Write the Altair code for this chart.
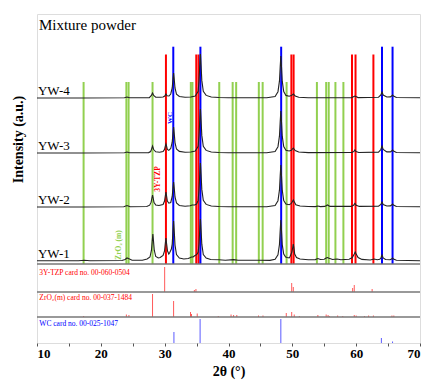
import altair as alt
import pandas as pd

# ---------------- data ----------------
# XRD patterns (2theta, intensity a.u.), baseline-relative
YW1 = [(10,0.3),(16.5,0.3),(17.4,0.8),(18.3,0.3),(23.3,0.5),(23.8,1.5),(24.1,3),(24.4,2.2),(24.9,0.8),(26.5,0.8),
       (27.25,2),(27.7,4),(27.93,10.8),(28.05,20),(28.15,27),(28.25,20),(28.37,10.8),(28.6,4.5),(29.0,3),(29.3,3.5),
       (29.75,5.5),(29.98,10),(30.1,17.5),(30.2,23),(30.3,17.5),(30.45,10),(30.65,7),(30.8,8.5),(31.05,12),(31.18,17),
       (31.3,30),(31.4,40),(31.5,30),(31.62,16),(31.85,6.5),(32.3,3),(33.0,2),
       (33.7,2.5),(34.05,3.5),(34.2,4),(34.45,4),(34.75,5.5),(34.9,6),(35.1,7),(35.25,9),(35.38,17),(35.5,31.5),(35.6,42),
       (35.7,31.5),(35.82,16.8),(36.05,6.5),(36.5,3),(37.2,1.5),(38.5,1.2),(39.5,0.8),
       (40.8,1.4),(41.5,0.8),(44.8,0.8),(46.5,0.6),(47.3,1.8),(47.75,6.2),(47.98,16.4),(48.1,30.8),(48.2,41),(48.3,30.8),
       (48.42,16.4),(48.65,7),(48.95,4),(49.2,3.5),(49.5,3.2),
       (49.65,4.5),(49.93,9),(50.05,13),(50.15,17),(50.25,13),(50.37,7),(50.65,3.5),(51.2,2),(52.5,1.2),(53.6,1.4),
       (54.0,2.5),(54.4,1.5),(55.0,1.8),(55.3,3),(55.5,3.5),(55.75,2.8),(56.3,1.5),(57.0,2),(57.6,1.3),
       (58.9,1.8),(59.4,3.5),(59.7,7),(59.85,9),(60.0,7),(60.3,3.5),(60.9,1.6),(62.2,1),(62.8,2),(63.3,1.2),(63.7,1.8),
       (63.87,3),(64.05,6),(64.23,3),(64.6,1.5),(65.3,1.3),(65.55,2),(65.7,3),(65.85,2),(66.3,0.8),(70,0.3)]
YW2 = [(10,0),(17,0),(23.6,0.3),(24.1,1.5),(24.6,0.3),(27.2,0.5),(27.65,1.8),(27.88,4.8),(28.0,9),(28.1,12),(28.2,9),
       (28.32,4.8),(28.6,2),(29.1,1.5),
       (29.75,2.5),(29.98,6),(30.1,11),(30.2,15),(30.3,11),(30.42,6),(30.65,3.8),(30.95,4.5),(31.18,10.5),(31.3,19),
       (31.4,25),(31.5,19),(31.62,10),(31.85,4),(32.3,1.5),(33.2,0.8),
       (34.0,1.2),(34.3,2),(34.7,2),(35.0,3),(35.25,6.6),(35.38,17.6),(35.5,33),(35.6,44),(35.7,33),(35.82,17.6),
       (36.05,6.6),(36.5,2.6),(37.3,1),(38.5,0.5),(40,0.3),
       (46,0.3),(47.3,1.5),(47.75,6.3),(47.98,16.8),(48.1,31.5),(48.2,42),(48.3,31.5),(48.42,16.8),(48.65,6.5),(49.0,3),
       (49.5,2.3),(49.8,3.3),(50.0,5.2),(50.15,7),(50.3,5.2),(50.55,2.2),(51.2,1),(52.5,0.5),
       (53.6,0.4),(54.0,1),(54.4,0.4),(55.1,0.6),(55.5,2),(55.9,0.6),(59.2,0.6),(59.6,1.8),(59.8,3.5),(60.0,1.8),
       (60.5,0.6),(63.5,0.7),(63.87,2.5),(64.05,5),(64.23,2.5),(64.8,1),(65.35,1.1),(65.55,2),(65.7,3),(65.85,2),
       (66.3,0.5),(70,0.2)]
YW3 = [(10,0),(17,0),(23.7,0.2),(24.1,1),(24.5,0.2),(27.5,0.4),(27.8,1.5),(27.93,3.5),(28.1,7),(28.27,3.5),(28.6,1.2),
       (29.2,0.8),
       (29.75,1.5),(29.98,3.6),(30.1,6.8),(30.2,9),(30.3,6.8),(30.42,3.6),(30.65,2.6),(30.95,4.5),(31.18,10.8),
       (31.3,19.5),(31.4,26),(31.5,19.5),(31.62,10.4),(31.85,4),(32.3,1.6),(33.2,0.7),
       (34.1,1),(34.8,2),(35.25,6.6),(35.38,17.6),(35.5,33),(35.6,44),(35.7,33),(35.82,17.6),(36.05,6.6),(36.5,2.6),
       (37.3,1),(38.5,0.5),(40,0.3),
       (46,0.3),(47.3,1.5),(47.75,6.3),(47.98,16.8),(48.1,31.5),(48.2,42),(48.3,31.5),(48.42,16.8),(48.65,6.5),(49.0,2.8),
       (49.5,2),(49.85,2.8),(50.15,5),(50.45,2.5),(51.0,1),(52.5,0.4),
       (59.3,0.5),(59.62,1.5),(59.8,3),(59.98,1.5),(60.4,0.5),(63.5,0.9),(63.87,3.5),(64.05,7),(64.23,3.5),(64.8,1.1),
       (65.35,1.1),(65.55,2),(65.7,3),(65.85,2),(66.3,0.5),(70,0.2)]
YW4 = [(10,0),(17,0),(23.7,0.2),(24.1,1),(24.5,0.2),(27.6,0.4),(27.92,2.5),(28.1,5),(28.28,2.5),(28.6,0.9),(29.3,0.7),
       (29.75,1),(30.02,2),(30.2,4),(30.38,2.2),(30.68,2),(30.95,4),(31.18,10),(31.3,18.75),(31.4,25),(31.5,18.75),
       (31.62,10),(31.85,3.8),(32.3,1.5),(33.2,0.7),
       (34.1,1),(34.8,2),(35.25,6.6),(35.38,17.6),(35.5,33),(35.6,44),(35.7,33),(35.82,17.6),(36.05,6.6),(36.5,2.6),
       (37.3,1),(38.5,0.5),(40,0.3),
       (46,0.3),(47.3,1.5),(47.75,6.3),(47.98,16.8),(48.1,31.5),(48.2,42),(48.3,31.5),(48.42,16.8),(48.65,6.5),(49.0,2.6),
       (49.5,1.8),(49.85,2.4),(50.15,4),(50.45,2),(51.0,0.8),(52.5,0.3),
       (59.3,0.4),(59.8,2),(60.3,0.4),(63.5,0.8),(63.87,3),(64.05,6),(64.23,3),(64.8,1),(65.35,1.1),(65.55,2),(65.7,3),
       (65.85,2),(66.3,0.5),(70,0.2)]

SERIES = ["YW-1", "YW-2", "YW-3", "YW-4"]

# reference phase positions (2theta)
ZRO2_LINES = [17.3, 24.0, 24.35, 28.1, 34.1, 34.35, 38.55, 40.65, 41.2, 44.75, 45.35, 49.1,
              53.85, 55.3, 55.7, 56.75, 58.0]
TZP_LINES = [30.2, 34.95, 35.3, 49.85, 50.2, 59.35, 59.9, 62.7]
WC_LINES = [31.35, 35.6, 48.25, 64.05, 65.7]

# PDF card stick patterns (2theta, relative height)
TZP_CARD = [(30.0, 25), (34.65, 2), (34.9, 3), (49.9, 9), (50.15, 5), (59.45, 4), (59.7, 7), (62.5, 3)]
ZRO2_CARD = [(17.3, 1), (24.0, 2.5), (24.4, 2), (28.1, 23), (31.4, 16), (34.05, 5), (34.2, 3), (35.1, 3.5),
             (38.4, 1), (40.4, 2.5), (40.8, 2), (41.3, 2), (44.7, 1.5), (45.4, 1.5), (49.05, 4), (49.9, 5),
             (50.3, 2.5), (51.1, 1), (54.0, 2), (55.3, 2.5), (55.6, 2), (55.8, 1), (57.1, 1.5), (57.9, 1),
             (59.7, 2), (60.0, 1.5), (61.3, 1), (61.95, 1.5), (62.7, 1.5), (65.6, 1.5), (65.9, 1.5)]
WC_CARD = [(31.45, 11), (35.55, 24), (48.2, 24), (63.95, 5), (65.7, 1.5)]

CARD_LABELS = ["3Y-TZP card no. 00-060-0504", "ZrO\u2082(m) card no. 00-037-1484", "WC card no. 00-025-1047"]

# ---------------- layout (vertical stacking in plot units) ----------------
OFFSETS = [82, 136, 190, 245]          # curve baselines
PANEL_BOTTOMS = [51, 26, 0]            # TZP, ZrO2, WC card panels
SEPARATORS = [26, 51, 79]
MAIN_BOTTOM = 79
LINE_TOPS = {"zro2": 261, "tzp": 288.5, "wc": 296.3}
GREEN, RED, BLUE = "#92d050", "#ff0000", "#0000ff"
FONT = "'Times New Roman', 'Liberation Serif', serif"

rows = []
for name, pts, off in zip(SERIES, [YW1, YW2, YW3, YW4], OFFSETS):
    for x, y in pts:
        rows.append({"series": name, "x": x, "y": y + off})
curves = pd.DataFrame(rows)

ref_rows = []
for pos in ZRO2_LINES:
    ref_rows.append({"x": pos, "y": MAIN_BOTTOM, "y2": LINE_TOPS["zro2"], "phase": "zro2"})
for pos in TZP_LINES:
    ref_rows.append({"x": pos, "y": MAIN_BOTTOM, "y2": LINE_TOPS["tzp"], "phase": "tzp"})
for pos in WC_LINES:
    ref_rows.append({"x": pos, "y": MAIN_BOTTOM, "y2": LINE_TOPS["wc"], "phase": "wc"})
refs = pd.DataFrame(ref_rows)

stick_rows = []
for card, base, phase in zip([TZP_CARD, ZRO2_CARD, WC_CARD], PANEL_BOTTOMS, ["tzp", "zro2c", "wc"]):
    for pos, h in card:
        stick_rows.append({"x": pos, "y": base, "y2": base + h, "phase": phase})
sticks = pd.DataFrame(stick_rows)

X_DOM = [10, 70]
Y_DOM = [0, 329]

xs = alt.Scale(domain=X_DOM, nice=False, zero=False)
ys = alt.Scale(domain=Y_DOM, nice=False, zero=False)
x_axis = alt.Axis(values=list(range(10, 71, 5)),
                  labelExpr="datum.value % 10 == 0 ? datum.label : ''",
                  title="2\u03b8 (\u00b0)", grid=False, domain=False,
                  tickSize=3, tickColor="#555", labelPadding=1,
                  labelFont=FONT, labelFontSize=13, labelFontWeight="bold", labelColor="#000",
                  titleFont=FONT, titleFontSize=14, titleFontWeight="bold", titleColor="#000",
                  titlePadding=4)
y_axis = alt.Axis(title="Intensity (a.u.)", labels=False, ticks=False, domain=False, grid=False,
                  titleFont=FONT, titleFontSize=14, titleFontWeight="bold", titleColor="#000",
                  titleAngle=270, titleX=-19, titleY=125, titleAlign="center", titleBaseline="middle")

X = alt.X("x:Q", scale=xs, axis=x_axis)
Y = alt.Y("y:Q", scale=ys, axis=y_axis)

lines = alt.Chart(curves).mark_line(color="#222222", strokeWidth=1.1).encode(
    x=X, y=Y, detail="series:N", order="x:Q")

ref_layer = alt.Chart(refs).mark_rule(strokeWidth=2).encode(
    x=X, y=Y, y2="y2:Q",
    color=alt.Color("phase:N", scale=alt.Scale(domain=["zro2", "tzp", "wc"], range=[GREEN, RED, BLUE]),
                    legend=None))

stick_layer = alt.Chart(sticks).mark_rule(strokeWidth=1, opacity=0.65).encode(
    x=X, y=Y, y2="y2:Q",
    color=alt.Color("phase:N", scale=alt.Scale(domain=["tzp", "zro2c", "wc"], range=[RED, RED, BLUE]),
                    legend=None))

sep_layer = alt.Chart(pd.DataFrame({"y": SEPARATORS})).mark_rule(color="#777", strokeWidth=1.5).encode(y=Y)

# text annotations
series_lbl = pd.DataFrame({"x": [10.15] * 4, "y": [o + 7 for o in OFFSETS], "t": SERIES})
series_text = alt.Chart(series_lbl).mark_text(align="left", baseline="middle", font=FONT, fontSize=13,
                                              color="#000").encode(x=X, y=Y, text="t:N")

title_text = alt.Chart(pd.DataFrame({"x": [10.3], "y": [318], "t": ["Mixture powder"]})).mark_text(
    align="left", baseline="middle", font=FONT, fontSize=15, color="#000").encode(x=X, y=Y, text="t:N")

rot_df = pd.DataFrame({"x": [30.78, 29.0, 22.85], "y": [225, 164, 98],
                       "t": ["WC", "3Y-TZP", "ZrO\u2082 (m)"], "c": ["wc", "tzp", "zro2"],
                       "s": [7, 7.5, 7.5]})
rot_text = alt.Chart(rot_df).mark_text(angle=270, align="center", baseline="middle", font=FONT,
                                       fontWeight="bold").encode(
    x=X, y=Y, text="t:N", size=alt.Size("s:Q", scale=None, legend=None),
    color=alt.Color("c:N", scale=alt.Scale(domain=["zro2", "tzp", "wc"], range=[GREEN, RED, BLUE]),
                    legend=None))

card_df = pd.DataFrame({"x": [10.36] * 3, "y": [70.3, 45.3, 19.3], "t": CARD_LABELS,
                        "c": ["tzp", "zro2c", "wc"]})
card_text = alt.Chart(card_df).mark_text(align="left", baseline="middle", font=FONT, fontSize=7.5).encode(
    x=X, y=Y, text="t:N",
    color=alt.Color("c:N", scale=alt.Scale(domain=["tzp", "zro2c", "wc"], range=[RED, RED, BLUE]),
                    legend=None))

chart = alt.layer(ref_layer, stick_layer, sep_layer, lines, series_text, title_text, rot_text, card_text).resolve_scale(
    color="independent").properties(
    width=383, height=329,
    autosize=alt.AutoSizeParams(type="none"),
    padding={"left": 29, "top": 6, "right": 12, "bottom": 44},
).configure_view(stroke="#666", strokeWidth=1.5).configure(background="#ffffff", font=FONT).configure_axis(
    labelFont=FONT, titleFont=FONT)

chart.save("out.html", embed_options={"renderer": "svg", "actions": False})
